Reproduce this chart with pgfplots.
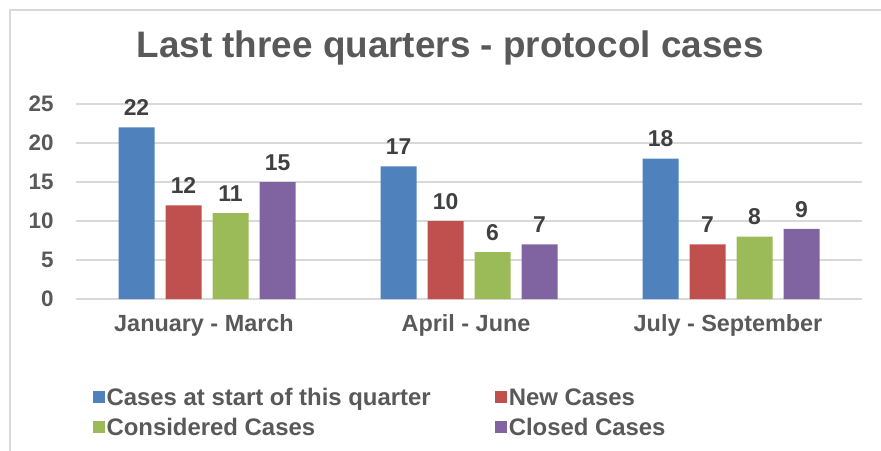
\documentclass[border=0pt]{standalone}
\usepackage{pgfplots}
\pgfplotsset{compat=1.18}
\usepackage{fontspec}
\setmainfont{Liberation Sans}
\definecolor{cblue}{HTML}{4F81BD}
\definecolor{cred}{HTML}{C0504D}
\definecolor{cgreen}{HTML}{9BBB59}
\definecolor{cpurple}{HTML}{8064A2}
\definecolor{txt}{HTML}{595959}
\definecolor{lbl}{HTML}{404040}
\definecolor{grd}{HTML}{D9D9D9}
\begin{document}
\begin{tikzpicture}
\path[use as bounding box] (0,0) rectangle (881bp,-451bp);
\draw[grd, line width=1.2bp] (10bp,-451bp) -- (10bp,-10bp) -- (881bp,-10bp);
\begin{axis}[
  at={(76bp,-299bp)}, anchor=south west,
  scale only axis, width=786bp, height=195bp,
  xmin=-0.5, xmax=2.5, ymin=0, ymax=25,
  enlargelimits=false, clip=false,
  ybar=11bp, bar width=36bp,
  axis line style={draw=none},
  major tick length=0pt,
  ytick={0,5,10,15,20,25},
  ymajorgrids, grid style={grd, line width=1.2bp},
  xtick={0,1,2},
  xticklabels={January - March, April - June, July - September},
  /pgf/number format/assume math mode=true,
  ticklabel style={text=txt},
  yticklabel style={font=\fontsize{22.5}{26}\selectfont\bfseries, xshift=-19bp},
  xticklabel style={font=\fontsize{23.5}{28}\selectfont\bfseries, yshift=-12bp, xshift=-3bp},
  title={Last three quarters - protocol cases},
  title style={font=\fontsize{37}{44}\selectfont\bfseries, text=txt, at={(0.476,1.21)}, anchor=base},
  nodes near coords,
  nodes near coords style={font=\fontsize{23}{26}\selectfont\bfseries, text=lbl, yshift=8bp},
  legend columns=2,
  legend style={draw=none, fill=none, font=\fontsize{24}{28}\selectfont\bfseries, text=txt,
    at={(0.017,-0.435)}, anchor=north west,
    nodes={inner sep=2bp}, row sep=7bp,
    /tikz/every even column/.append style={column sep=62bp}},
  legend cell align=left,
  legend image code/.code={\fill[#1] (0bp,-6bp) rectangle (12bp,6bp);},
]
\addplot[fill=cblue, draw=none] coordinates {(0,22) (1,17) (2,18)};
\addlegendentry{Cases at start of this quarter}
\addplot[fill=cred, draw=none] coordinates {(0,12) (1,10) (2,7)};
\addlegendentry{New Cases}
\addplot[fill=cgreen, draw=none] coordinates {(0,11) (1,6) (2,8)};
\addlegendentry{Considered Cases}
\addplot[fill=cpurple, draw=none] coordinates {(0,15) (1,7) (2,9)};
\addlegendentry{Closed Cases}
\end{axis}
\end{tikzpicture}
\end{document}
